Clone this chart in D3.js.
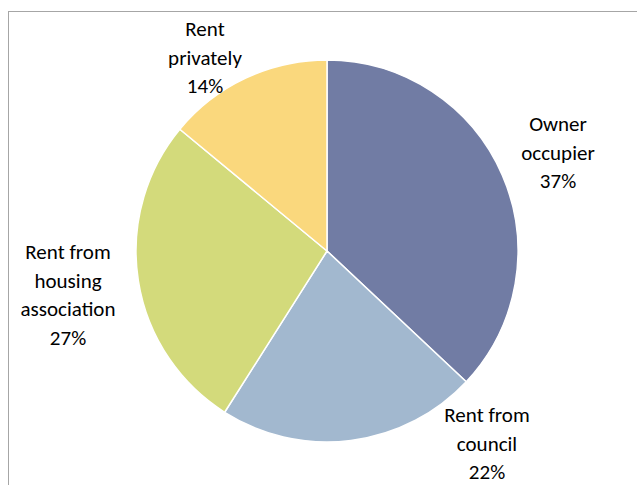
<!DOCTYPE html>
<html>
<head>
<meta charset="utf-8">
<script src="https://cdn.jsdelivr.net/npm/d3@7"></script>
<style>
  html, body { margin: 0; padding: 0; background: #fff; }
  svg { display: block; }
  text { font-family: Carlito, Lato, "Open Sans", sans-serif; font-size: 21px; fill: #000; }
</style>
</head>
<body>
<svg id="chart" width="637" height="485"></svg>
<script>
// Housing tenure shares (percent), clockwise from 12 o'clock
const categories = ["Owner occupier", "Rent from council", "Rent from housing association", "Rent privately"];
const labelLines = [["Owner", "occupier"], ["Rent from", "council"], ["Rent from", "housing", "association"], ["Rent", "privately"]];
const values = [37, 22, 27, 14];
const colors = ["#717ca4", "#a2b8cf", "#d3da7b", "#fad87d"];

// Label anchor offsets from the pie centre (layout only)
const labelOffsets = [[231, -120], [160, 171], [-259, 8], [-122, -215]];

const svg = d3.select("#chart");
const cx = 327, cy = 251, r = 191;

// Chart frame
svg.append("rect")
  .attr("x", 8.5).attr("y", 11.5)
  .attr("width", 700).attr("height", 600)
  .attr("fill", "none")
  .attr("stroke", "#a6a6a6")
  .attr("stroke-width", 1);

const data = categories.map((c, i) => ({ name: c, value: values[i], lines: labelLines[i], color: colors[i], off: labelOffsets[i] }));

const pie = d3.pie().sort(null).value(d => d.value);
const arc = d3.arc().innerRadius(0).outerRadius(r);

const g = svg.append("g").attr("transform", `translate(${cx},${cy})`);

g.selectAll("path.slice")
  .data(pie(data))
  .join("path")
  .attr("class", "slice")
  .attr("d", arc)
  .attr("fill", d => d.data.color)
  .attr("stroke", "#fff")
  .attr("stroke-width", 1.5)
  .attr("stroke-linejoin", "round");

const lineH = 28.6;
const labels = g.selectAll("text.lbl")
  .data(data)
  .join("text")
  .attr("class", "lbl")
  .attr("text-anchor", "middle")
  .attr("transform", d => `translate(${d.off[0]},${d.off[1]})`);

labels.each(function(d) {
  const t = d3.select(this);
  const all = d.lines.concat([d.value + "%"]);
  all.forEach((s, i) => {
    t.append("tspan").attr("x", 0).attr("y", i * lineH).text(s);
  });
});
</script>
</body>
</html>
